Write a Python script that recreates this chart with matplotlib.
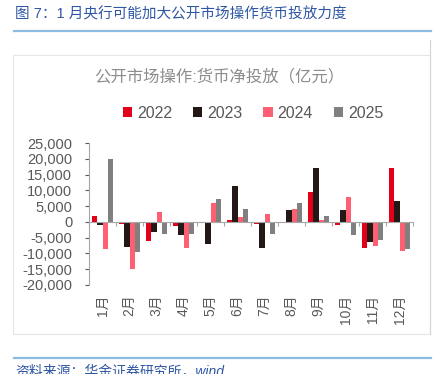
import matplotlib
matplotlib.use("Agg")
import matplotlib.pyplot as plt
import numpy as np
from matplotlib.patches import Rectangle
from matplotlib.lines import Line2D

plt.rcParams['font.family'] = ['Liberation Sans', 'Noto Sans CJK SC', 'DejaVu Sans']

months = ["1月", "2月", "3月", "4月", "5月", "6月", "7月", "8月", "9月", "10月", "11月", "12月"]
years = ["2022", "2023", "2024", "2025"]
v2022 = [1900, -800, -6100, -1200, 0, 500, -800, 0, 9600, -1100, -8200, 17000]
v2023 = [-1000, -8100, -3300, -4300, -7000, 11400, -8200, 3900, 17100, 3700, -6400, 6600]
v2024 = [-8600, -14800, 3200, -8400, 5900, 1400, 2400, 4100, 600, 7900, -7600, -9100]
v2025 = [20000, -9600, -3800, -3800, 7200, 4200, -3700, 6100, 1900, -4000, -5600, -8500]
series = [v2022, v2023, v2024, v2025]
colors = ["#E2001A", "#231815", "#FF5F73", "#808080"]
yticks = [-20000, -15000, -10000, -5000, 0, 5000, 10000, 15000, 20000, 25000]

W, H = 436, 374
fig = plt.figure(figsize=(W / 100, H / 100), dpi=100)

def fx(px):
    return px / W

def fy(py):
    return 1 - py / H

# title
fig.text(fx(15), fy(14), "图 7：1 月央行可能加大公开市场操作货币投放力度", color="#2F57A3",
         fontsize=10.5, va="center", ha="left")
fig.add_artist(Line2D([fx(14), fx(431)], [fy(31), fy(31)], color="#8DBCE3", lw=1.6))
# frame
fig.add_artist(Rectangle((fx(13), fy(334)), fx(430) - fx(13), fy(55) - fy(334),
                         fill=False, edgecolor="#E6E6E6", lw=0.8))
fig.add_artist(Line2D([fx(430), fx(430)], [fy(40), fy(334)], color="#D4D4D4", lw=0.8))
# chart title
fig.text(fx(219), fy(77), "公开市场操作:货币净投放（亿元）", color="#8C8C8C",
         fontsize=11.8, va="center", ha="center")
# bottom line and source
fig.add_artist(Line2D([fx(14), fx(431)], [fy(358), fy(358)], color="#8DBCE3", lw=1.6))
fig.text(fx(15), fy(365), "资料来源：华金证券研究所，wind", color="#2F57A3",
         fontsize=10, va="top", ha="left", style="italic")

ax = fig.add_axes([fx(89), fy(285), fx(413) - fx(89), fy(143) - fy(285)])
x = np.arange(len(months))
bw = 0.2
for i, (vals, c, yr) in enumerate(zip(series, colors, years)):
    ax.bar(x + (i - 1.5) * bw, vals, width=bw, color=c, label=yr, zorder=2)

ax.set_xlim(-0.5, 11.5)
ax.set_ylim(-20000, 25000)
ax.set_yticks(yticks)
ax.set_yticklabels([f"{v:,}" for v in yticks])
ax.tick_params(axis="y", colors="#595959", labelsize=10.5, length=3, width=0.8, pad=9)
for s in ["top", "right"]:
    ax.spines[s].set_visible(False)
ax.spines["left"].set_color("#A6A6A6")
ax.spines["bottom"].set_position(("data", 0))
ax.spines["bottom"].set_color("#A6A6A6")
ax.spines["bottom"].set_zorder(3)
ax.set_xticks(np.arange(-0.5, 12, 1))
ax.set_xticklabels([])
ax.tick_params(axis="x", colors="#A6A6A6", length=3, width=0.8, direction="out")
for i, m in enumerate(months):
    ax.annotate(m, xy=(i, 0), xycoords=("data", "axes fraction"), xytext=(0, -7),
                textcoords="offset points", rotation=90, ha="center", va="top",
                color="#595959", fontsize=10)

leg = fig.legend(loc="center", bbox_to_anchor=(fx(253), fy(113)), ncol=4, frameon=False,
                 fontsize=11.5, handlelength=0.6, handleheight=0.6, handletextpad=0.3,
                 columnspacing=1.3, labelcolor="#595959")

fig.savefig("out.png", dpi=100)
